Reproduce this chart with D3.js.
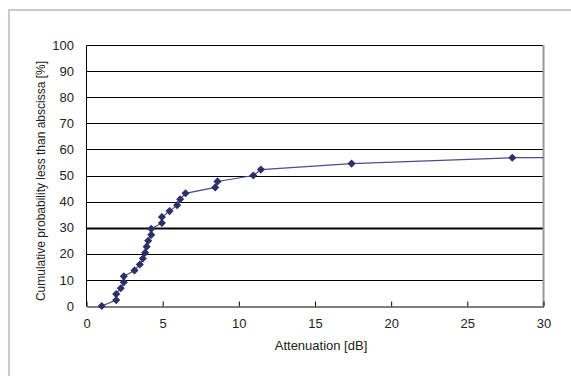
<!DOCTYPE html>
<html>
<head>
<meta charset="utf-8">
<script src="https://cdn.jsdelivr.net/npm/d3@7"></script>
<style>
  body { margin: 0; background: #fff; }
  svg { display: block; font-family: "Liberation Sans", Arial, sans-serif; }
</style>
</head>
<body>
<svg id="chart" width="571" height="376"></svg>
<script>
"use strict"

// attenuation [dB]
var attenuation = [1.0, 1.95, 1.95, 2.25, 2.45, 2.45, 3.15, 3.5, 3.7, 3.85, 3.95, 4.05,
  4.25, 4.25, 4.95, 4.95, 5.45, 5.95, 6.15, 6.5, 8.45, 8.6, 10.95, 11.45, 17.4, 27.95]
// cumulative probability [%]
var probability = [0, 2.27, 4.55, 6.82, 9.09, 11.36, 13.64, 15.91, 18.18, 20.45, 22.73, 25.0,
  27.27, 29.55, 31.82, 34.09, 36.36, 38.64, 40.91, 43.18, 45.45, 47.73, 50.0, 52.27, 54.55, 56.82]
// the line runs on to the right edge past the last marker
var tailPoint = [30, 56.82]

var xTicks = [0, 5, 10, 15, 20, 25, 30]
var yTicks = [0, 10, 20, 30, 40, 50, 60, 70, 80, 90, 100]
var boldGridValue = 30

var xTitle = "Attenuation [dB]"
var yTitle = "Cumulative probability less than abscissa [%]"

var plot = { left: 86.5, right: 543.5, top: 45, bottom: 306 }

var svg = d3.select("#chart")

// light outer frame, open at right and bottom
svg.append("path")
  .attr("d", "M9,376 L9,10 L571,10")
  .attr("fill", "none")
  .attr("stroke", "#c9c9cf")
  .attr("stroke-width", 2)

var x = d3.scaleLinear().domain([0, 30]).range([plot.left, plot.right])
var y = d3.scaleLinear().domain([0, 100]).range([plot.bottom, plot.top])

// horizontal grid
svg.append("g").selectAll("line")
  .data(yTicks.filter(function(d){ return d > 0 }))
  .enter().append("line")
  .attr("x1", plot.left)
  .attr("x2", plot.right)
  .attr("y1", function(d){ return Math.round(y(d)) + 0.5 })
  .attr("y2", function(d){ return Math.round(y(d)) + 0.5 })
  .attr("stroke", "#000")
  .attr("stroke-width", function(d){ return d == boldGridValue ? 2.2 : 1 })

// right border is grey
svg.append("line")
  .attr("x1", plot.right).attr("x2", plot.right)
  .attr("y1", plot.top).attr("y2", plot.bottom)
  .attr("stroke", "#999")
  .attr("stroke-width", 2)

// x axis with inward ticks
var xAxis = d3.axisBottom(x).tickValues(xTicks).tickSizeInner(-5).tickSizeOuter(0).tickPadding(12)
var gx = svg.append("g")
  .attr("transform", "translate(0," + (plot.bottom + 0.5) + ")")
  .call(xAxis)
gx.select(".domain").attr("stroke", "#000")
gx.selectAll(".tick line").attr("stroke", "#000")
gx.selectAll("text").attr("font-size", 13).attr("fill", "#222").attr("font-family", null)

// y axis
var yAxis = d3.axisLeft(y).tickValues(yTicks).tickSize(0).tickPadding(12)
var gy = svg.append("g")
  .attr("transform", "translate(" + (plot.left - 0.5) + ",0)")
  .call(yAxis)
gy.select(".domain").attr("stroke", "#000")
gy.selectAll("text").attr("font-size", 13).attr("fill", "#222").attr("font-family", null)

// titles
svg.append("text")
  .attr("x", 321)
  .attr("y", 350)
  .attr("text-anchor", "middle")
  .attr("font-size", 13)
  .attr("fill", "#222")
  .text(xTitle)

svg.append("text")
  .attr("transform", "translate(45,181) rotate(-90)")
  .attr("text-anchor", "middle")
  .attr("font-size", 12)
  .attr("fill", "#222")
  .text(yTitle)

// series
var points = attenuation.map(function(d, i){ return [d, probability[i]] })

var line = d3.line()
  .x(function(d){ return x(d[0]) })
  .y(function(d){ return y(d[1]) })

svg.append("path")
  .datum(points.concat([tailPoint]))
  .attr("d", line)
  .attr("fill", "none")
  .attr("stroke", "#4b4d85")
  .attr("stroke-width", 1.2)

svg.append("g").selectAll("path")
  .data(points)
  .enter().append("path")
  .attr("d", d3.symbol().type(d3.symbolDiamond2 || d3.symbolDiamond).size(42))
  .attr("transform", function(d){ return "translate(" + x(d[0]) + "," + y(d[1]) + ")" })
  .attr("fill", "#2d3068")
</script>
</body>
</html>
